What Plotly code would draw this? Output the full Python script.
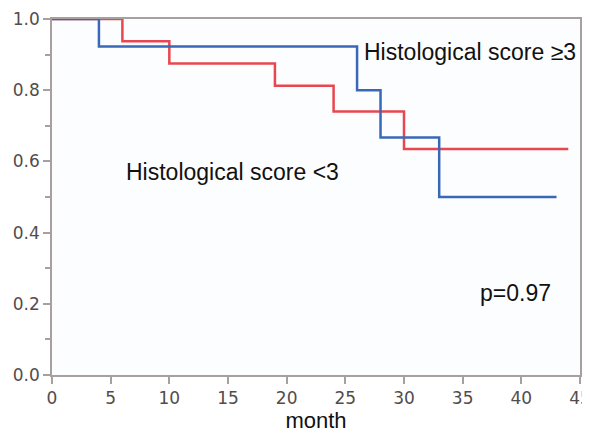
import plotly.graph_objects as go

# Kaplan-Meier step data (time in months, survival)
high_time = [0, 4, 26, 28, 33, 43]
high_surv = [1.0, 0.923, 0.80, 0.667, 0.50, 0.50]
low_time = [0, 6, 10, 19, 24, 30, 44]
low_surv = [1.0, 0.9375, 0.875, 0.8125, 0.74, 0.635, 0.635]

x_ticks = [0, 5, 10, 15, 20, 25, 30, 35, 40, 45]
y_ticks = [0.0, 0.2, 0.4, 0.6, 0.8, 1.0]

fig = go.Figure()
fig.add_trace(go.Scatter(x=low_time, y=low_surv, mode="lines", line=dict(shape="hv", color="#e8474f", width=2.5),
                         showlegend=False))
fig.add_trace(go.Scatter(x=high_time, y=high_surv, mode="lines", line=dict(shape="hv", color="#3a68b8", width=2.5),
                         showlegend=False))

axis_color = "#a8a09e"
tickfont = dict(family="DejaVu Sans", size=17, color="#524c4c")
fig.update_xaxes(range=[0, 45], tickvals=x_ticks, ticktext=[str(v) for v in x_ticks],
                 ticks="outside", ticklen=7, tickcolor=axis_color, tickwidth=1.5,
                 showline=True, linecolor=axis_color, linewidth=1.5, mirror=True,
                 showgrid=False, zeroline=False, tickfont=tickfont, automargin=False,
                 ticklabeloverflow="allow",
                 title=dict(text="month", font=dict(family="Liberation Sans", size=22, color="#111"), standoff=4))
fig.update_yaxes(range=[0, 1.0], tickvals=y_ticks, ticktext=[f"{v:.1f}" for v in y_ticks],
                 ticks="outside", ticklen=7, tickcolor=axis_color, tickwidth=1.5,
                 minor=dict(tickvals=[0.1, 0.3, 0.5, 0.7, 0.9], ticks="outside", ticklen=5, tickcolor=axis_color),
                 showline=True, linecolor=axis_color, linewidth=1.5, mirror=True,
                 showgrid=False, zeroline=False, tickfont=tickfont, automargin=False,
                 ticklabeloverflow="allow")

afont = dict(family="Liberation Sans", size=23, color="#111111")
fig.add_annotation(x=26.4, y=0.907, text="Histological score ≥3", showarrow=False, xanchor="left", yanchor="middle", font=afont)
fig.add_annotation(x=6.1, y=0.570, text="Histological score <3", showarrow=False, xanchor="left", yanchor="middle", font=afont)
fig.add_annotation(x=36.3, y=0.23, text="p=0.97", showarrow=False, xanchor="left", yanchor="middle", font=afont)

# page body has an 8px margin, so the figure is sized to fit the 590x435 window
fig.update_layout(width=582, height=427, margin=dict(l=44, r=10, t=11, b=60),
                  plot_bgcolor="#fcfdff", paper_bgcolor="white")
fig.write_html("out.html")
